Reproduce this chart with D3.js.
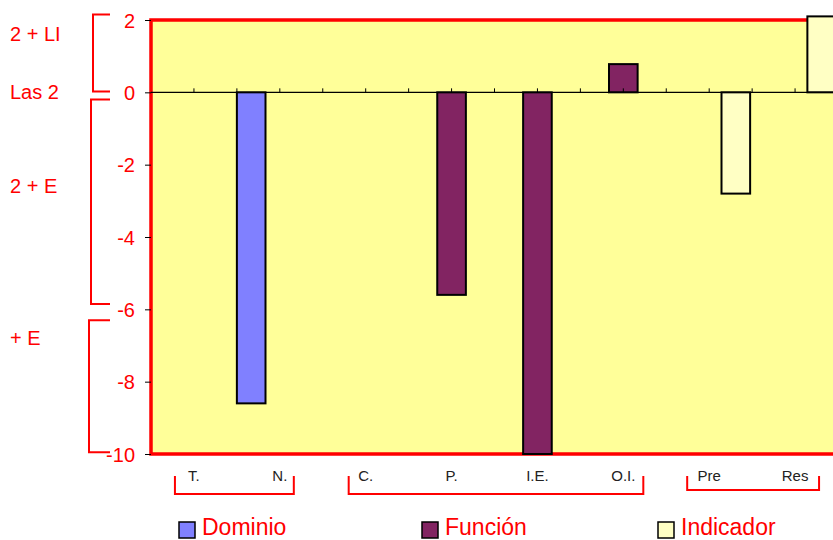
<!DOCTYPE html>
<html>
<head>
<meta charset="utf-8">
<script src="https://cdn.jsdelivr.net/npm/d3@7"></script>
<style>
  html, body { margin: 0; padding: 0; background: #ffffff; }
  svg { display: block; font-family: "Liberation Sans", Arial, sans-serif; }
</style>
</head>
<body>
<svg id="chart" width="833" height="540"></svg>
<script>
// Categories on the horizontal axis
const categories = ["T.", "N.", "C.", "P.", "I.E.", "O.I.", "Pre", "Res"];
// Series (one bar slot per series inside each category)
const seriesNames = ["Dominio", "Función", "Indicador"];
const seriesColors = ["#8080FF", "#822462", "#FFFFC4"];
// Values per series, aligned with categories (null = no bar)
const dominioValues   = [null, -8.6, null, null, null, null, null, null];
const funcionValues   = [null, null, null, -5.6, -10, 0.78, null, null];
const indicadorValues = [null, null, null, null, null, null, -2.8, 2.1];
// Value axis ticks
const yTicks = [2, 0, -2, -4, -6, -8, -10];
// Level annotations on the left, with the value range each one covers
const levelLabels = ["2 + LI", "Las 2", "2 + E", "+ E"];
const levelLabelValues = [1.6, 0, -2.6, -6.8];
const levelRanges = [[2.15, 0.02], [-0.2, -5.85], [-6.3, -9.95]];
const levelBracketX = [93, 91, 89];
// Category groups shown with brackets under the axis
const groupSpans = [["T.", "N."], ["C.", "O.I."], ["Pre", "Res"]];

const svg = d3.select("#chart");
const red = "#FF0000";

const plot = { left: 151, right: 838, top: 20, bottom: 454 };

const x = d3.scaleBand().domain(categories).range([plot.left, plot.right]).padding(0);
const xs = d3.scaleBand().domain(seriesNames).range([0, x.bandwidth()]).padding(0);
const y = d3.scaleLinear().domain([-10, 2]).range([plot.bottom, plot.top]);

// Plot area fill and red frame
svg.append("rect")
  .attr("x", plot.left).attr("y", plot.top)
  .attr("width", plot.right - plot.left).attr("height", plot.bottom - plot.top)
  .attr("fill", "#FFFF99")
  .attr("stroke", red).attr("stroke-width", 3.5);

// Value axis (plain hyphen for negative numbers)
const yAxis = d3.axisLeft(y).tickValues(yTicks).tickSize(6).tickPadding(10)
  .tickFormat(d => String(d));
const gy = svg.append("g").attr("transform", `translate(${plot.left},0)`).call(yAxis);
gy.select(".domain").remove();
gy.selectAll(".tick line").attr("stroke", "#000").attr("stroke-width", 1);
gy.selectAll(".tick text")
  .attr("fill", red).attr("font-size", 20)
  .attr("font-family", "'Liberation Sans', Arial, sans-serif")
  .attr("dy", "0.35em");

// Bars
const seriesData = [dominioValues, funcionValues, indicadorValues];
seriesData.forEach((vals, si) => {
  const rows = categories.map((c, i) => ({ c, v: vals[i] })).filter(d => d.v !== null);
  svg.append("g").selectAll("rect").data(rows).join("rect")
    .attr("x", d => x(d.c) + xs(seriesNames[si]) - (si === 2 ? 2 : 0))
    .attr("width", xs.bandwidth())
    .attr("y", d => y(Math.max(0, d.v)))
    .attr("height", d => Math.abs(y(d.v) - y(0)))
    .attr("fill", seriesColors[si])
    .attr("stroke", "#000").attr("stroke-width", 2);
});

// Category axis through zero with small tick marks at every half category
svg.append("line")
  .attr("x1", plot.left).attr("x2", plot.right)
  .attr("y1", y(0)).attr("y2", y(0))
  .attr("stroke", "#000").attr("stroke-width", 1.2);
const tickXs = [];
categories.forEach(c => { tickXs.push(x(c)); tickXs.push(x(c) + x.bandwidth() / 2); });
svg.append("g").selectAll("line").data(tickXs.filter(t => t > plot.left + 1)).join("line")
  .attr("x1", d => d).attr("x2", d => d)
  .attr("y1", y(0) - 4).attr("y2", y(0))
  .attr("stroke", "#000").attr("stroke-width", 1);

// Category labels below the plot
svg.append("g").selectAll("text").data(categories).join("text")
  .attr("x", d => x(d) + x.bandwidth() / 2)
  .attr("y", 481)
  .attr("text-anchor", "middle")
  .attr("font-size", 15)
  .attr("fill", "#222")
  .text(d => d);

// Group brackets under the category labels
const groupPads = [[19, 14], [17, 20], [22, 24]];
const groupBottoms = [494, 494, 490];
groupSpans.forEach((g, i) => {
  const x0 = x(g[0]) + x.bandwidth() / 2 - groupPads[i][0];
  const x1 = x(g[1]) + x.bandwidth() / 2 + groupPads[i][1];
  const yb = groupBottoms[i];
  svg.append("path")
    .attr("d", `M${x0},476 V${yb} H${x1} V476`)
    .attr("fill", "none").attr("stroke", red).attr("stroke-width", 2);
});

// Level brackets on the left
levelRanges.forEach((r, i) => {
  const bx = levelBracketX[i];
  svg.append("path")
    .attr("d", `M110,${y(r[0])} H${bx} V${y(r[1])} H110`)
    .attr("fill", "none").attr("stroke", red).attr("stroke-width", 2);
});

// Level annotations
svg.append("g").selectAll("text").data(levelLabels).join("text")
  .attr("x", 10)
  .attr("y", (d, i) => y(levelLabelValues[i]))
  .attr("dy", "0.35em")
  .attr("font-size", 20)
  .attr("fill", red)
  .text(d => d);

// Legend
const legendX = [179, 422, 658];
const lg = svg.append("g").selectAll("g").data(seriesNames).join("g")
  .attr("transform", (d, i) => `translate(${legendX[i]},522)`);
lg.append("rect")
  .attr("width", 16).attr("height", 16)
  .attr("fill", (d, i) => seriesColors[i])
  .attr("stroke", "#000").attr("stroke-width", 1.5);
lg.append("text")
  .attr("x", 23).attr("y", 13)
  .attr("font-size", 23)
  .attr("fill", red)
  .text(d => d);
</script>
</body>
</html>
